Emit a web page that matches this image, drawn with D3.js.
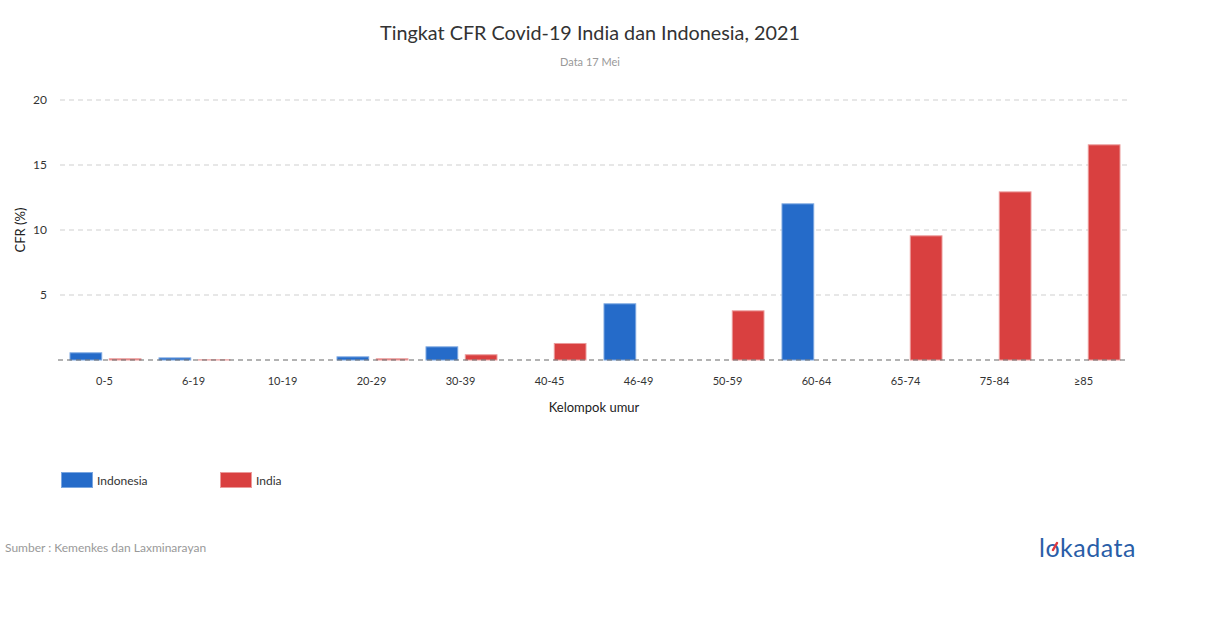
<!DOCTYPE html>
<html><head><meta charset="utf-8">
<script src="https://cdn.jsdelivr.net/npm/d3@7"></script>
<style>body{margin:0;background:#fff;font-family:Lato,"Open Sans",sans-serif;}</style>
</head><body><svg id="c" width="1210" height="628"></svg>
<script>
const categories = ["0-5","6-19","10-19","20-29","30-39","40-45","46-49","50-59","60-64","65-74","75-84","≥85"];
const indonesia = [0.59, 0.2, null, 0.28, 1.05, null, 4.36, null, 12.05, null, null, null];
const india = [0.13, 0.05, null, 0.13, 0.44, 1.31, null, 3.82, null, 9.59, 12.97, 16.59];
const yTicks = [5, 10, 15, 20];
const seriesNames = ["Indonesia", "India"];
const colors = ["#256bc9", "#d94040"];
const strokes = ["#7aa6e0", "#eb9a9a"];

const svg = d3.select("#c");
const m = {l: 60, r: 1128, t: 100, b: 360};
const x = d3.scaleBand().domain(categories).range([m.l, m.r]);
const x1 = d3.scaleBand().domain(seriesNames).range([9.5, x.bandwidth() - 7.5]).paddingInner(6/72*2).paddingOuter(0);
const y = d3.scaleLinear().domain([0, 20]).range([m.b, m.t]);

// grid
svg.append("g").selectAll("line").data(yTicks).join("line")
  .attr("x1", m.l).attr("x2", m.r).attr("y1", d => y(d)).attr("y2", d => y(d))
  .attr("stroke", "#cfcfcf").attr("stroke-dasharray", "5,4");
svg.append("g").selectAll("text").data(yTicks).join("text")
  .attr("x", 47).attr("y", d => y(d)).attr("dy", "0.35em").attr("text-anchor", "end")
  .attr("font-size", 12).attr("fill", "#333").text(d => d);

// bars
const data = [indonesia, india];
data.forEach((vals, si) => {
  svg.append("g").selectAll("rect")
    .data(categories.map((c, i) => ({c, v: vals[i]})).filter(d => d.v != null))
    .join("rect")
    .attr("x", d => x(d.c) + x1(seriesNames[si]) + 0.5)
    .attr("width", x1.bandwidth() - 1)
    .attr("y", d => y(d.v) + 0.5)
    .attr("height", d => Math.max(0, y(0) - y(d.v) - 0.5))
    .attr("fill", colors[si]).attr("stroke", strokes[si]).attr("stroke-width", 1);
});

// zero line
svg.append("line").attr("x1", m.l - 2).attr("x2", m.r).attr("y1", y(0)).attr("y2", y(0))
  .attr("stroke", "#666").attr("stroke-dasharray", "5,4");

// x labels
svg.append("g").selectAll("text").data(categories).join("text")
  .attr("x", d => x(d) + x.bandwidth()/2).attr("y", 385).attr("text-anchor", "middle")
  .attr("font-size", 11).attr("fill", "#333").text(d => d);

svg.append("text").attr("x", 594).attr("y", 412).attr("text-anchor", "middle")
  .attr("font-size", 13).attr("fill", "#222").text("Kelompok umur");
svg.append("text").attr("transform", "translate(25,230) rotate(-90)").attr("text-anchor", "middle")
  .attr("font-size", 13).attr("fill", "#222").text("CFR (%)");

// title
svg.append("text").attr("x", 590).attr("y", 40).attr("text-anchor", "middle")
  .attr("font-size", 19.8).attr("fill", "#333").text("Tingkat CFR Covid-19 India dan Indonesia, 2021");
svg.append("text").attr("x", 590).attr("y", 66).attr("text-anchor", "middle")
  .attr("font-size", 11).attr("fill", "#999").text("Data 17 Mei");

// legend
const lx = [61, 220];
seriesNames.forEach((s, i) => {
  svg.append("rect").attr("x", lx[i] + 0.5).attr("y", 472.5).attr("width", 31).attr("height", 15)
    .attr("fill", colors[i]).attr("stroke", strokes[i]);
  svg.append("text").attr("x", lx[i] + 36).attr("y", 484.5).attr("font-size", 12).attr("fill", "#333").text(s);
});

svg.append("text").attr("x", 5).attr("y", 552).attr("font-size", 12).attr("fill", "#999")
  .text("Sumber : Kemenkes dan Laxminarayan");

// logo
svg.append("text").attr("x", 1039).attr("y", 557).attr("font-size", 25)
  .attr("fill", "#2a5ea8").attr("font-family", "Lato, sans-serif").attr("letter-spacing", 0.5)
  .text("lokadata");
svg.append("path").attr("d", "M1053,550 L1057,543").attr("stroke", "#e0383e").attr("stroke-width", 2.5).attr("stroke-linecap", "round");
</script></body></html>
